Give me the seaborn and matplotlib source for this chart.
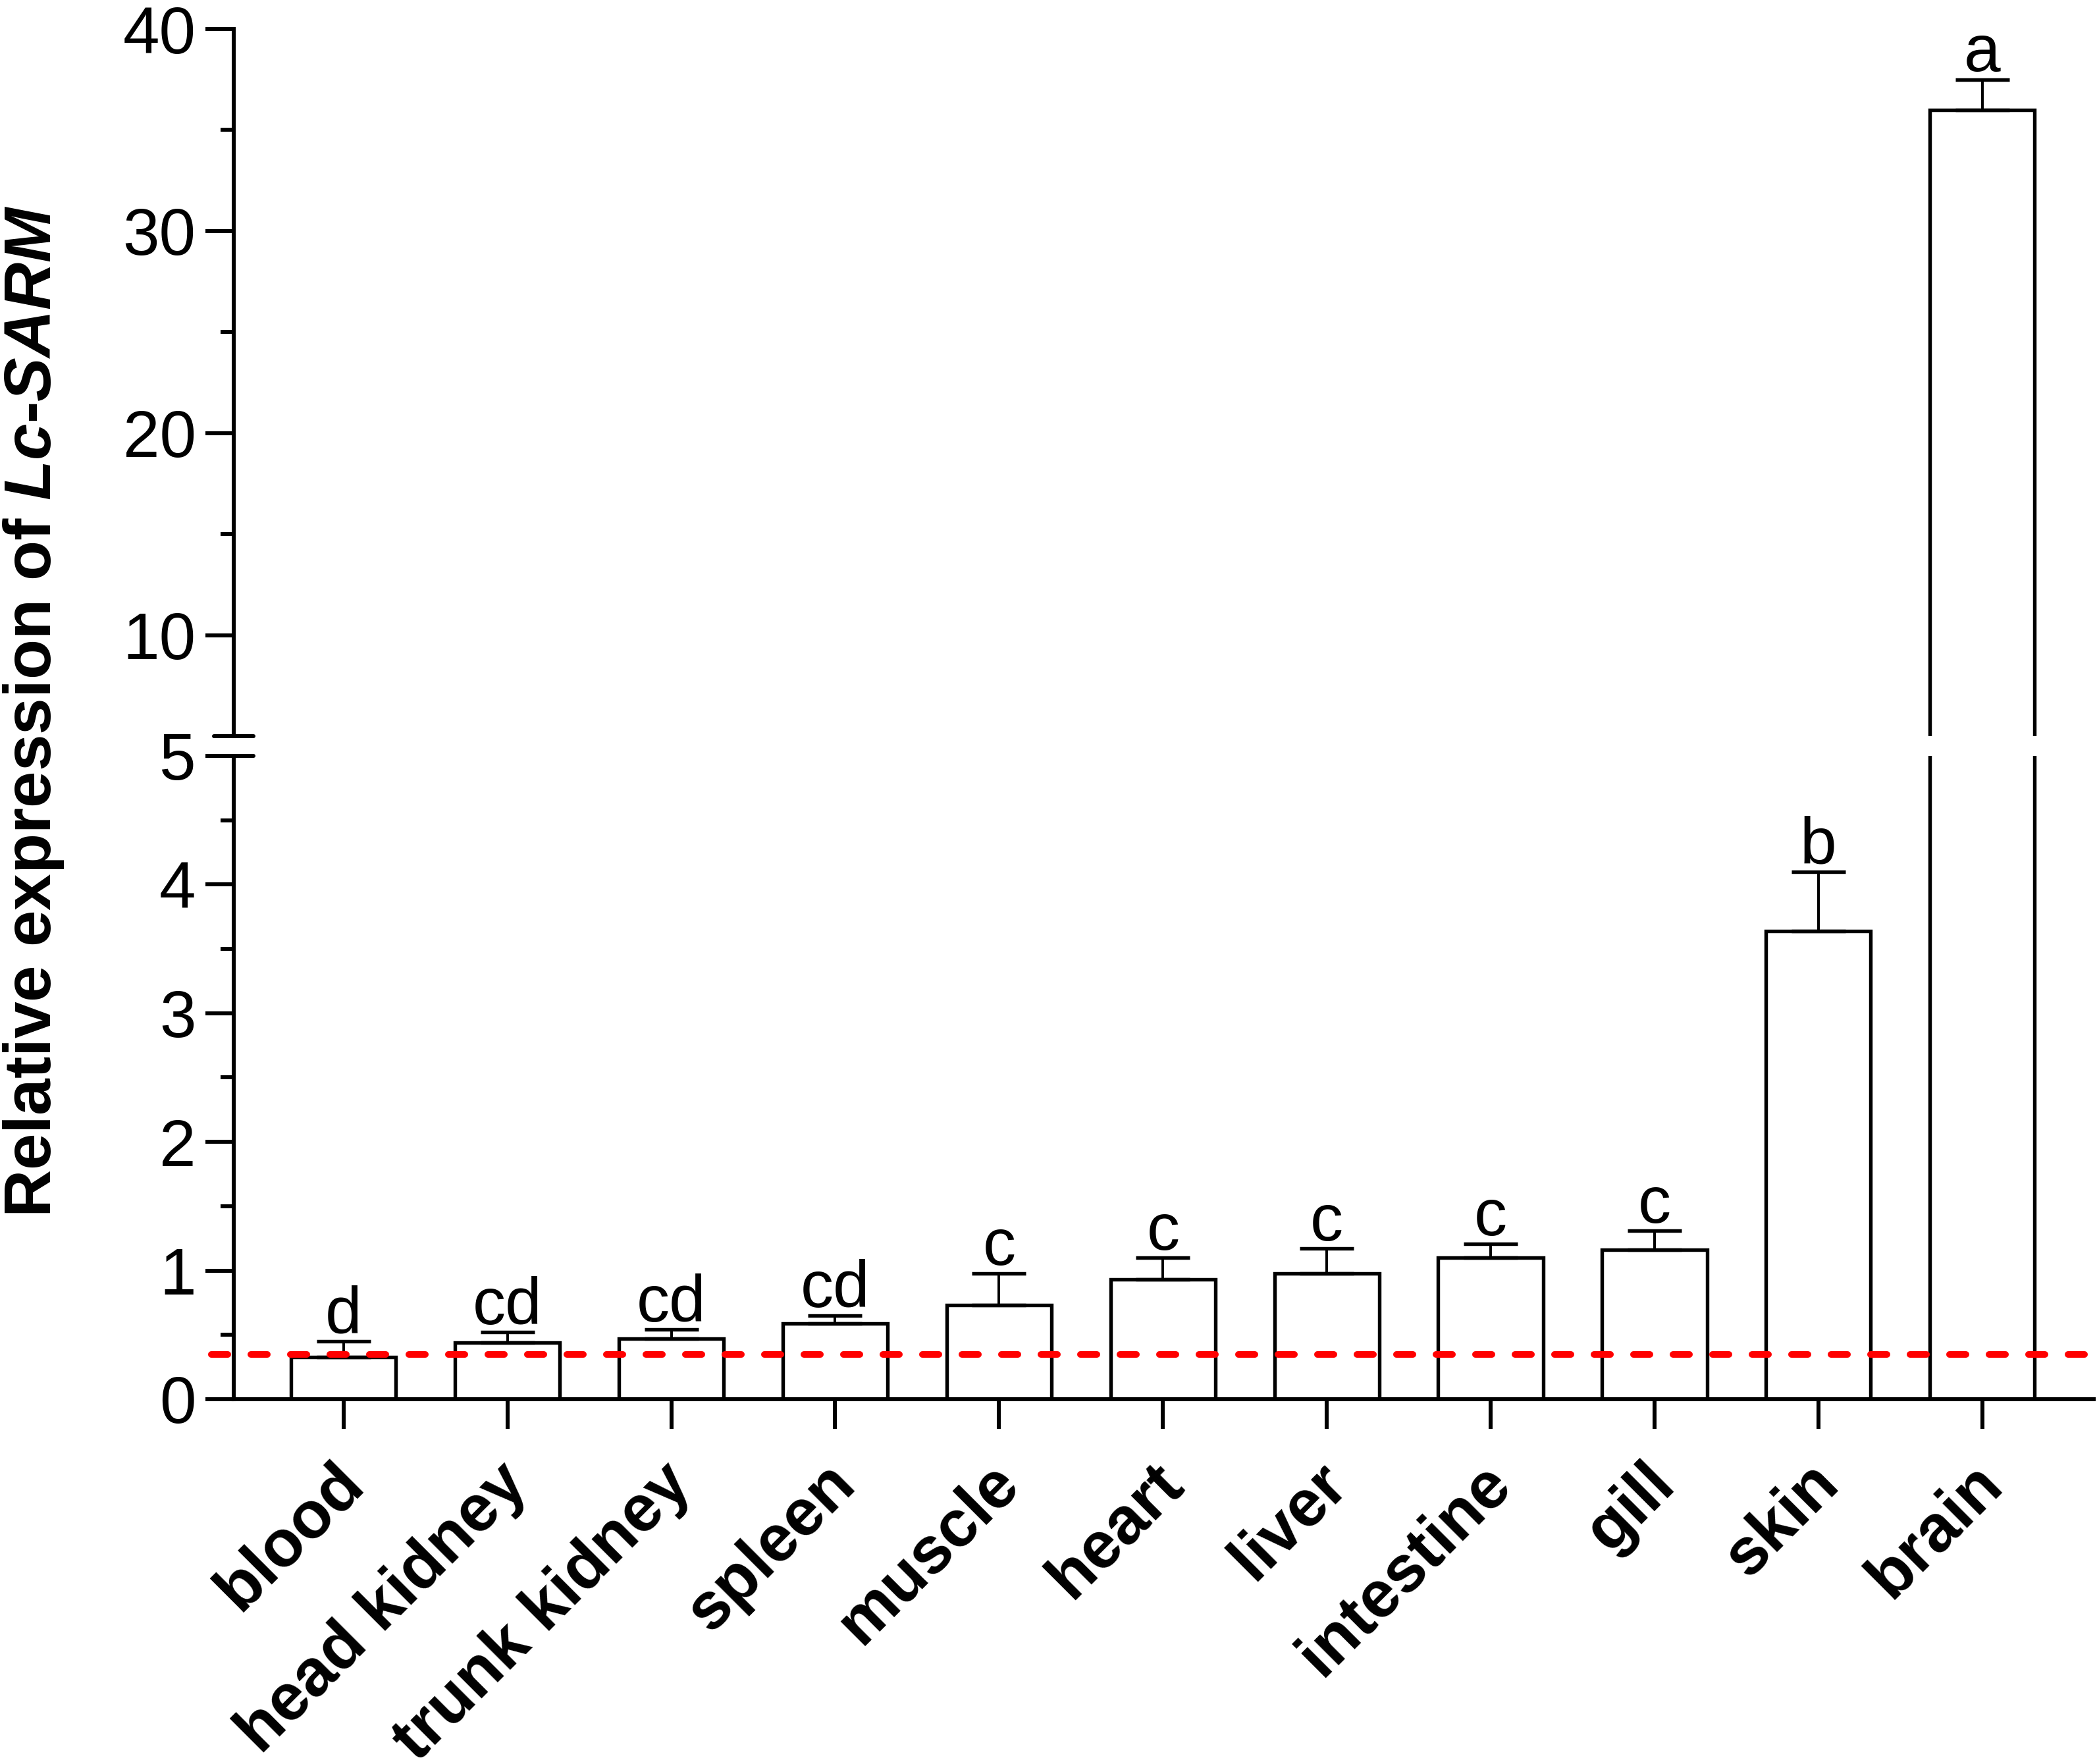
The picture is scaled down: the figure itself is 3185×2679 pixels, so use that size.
import matplotlib
matplotlib.use("Agg")
import matplotlib.pyplot as plt
import matplotlib.transforms as mtransforms
import seaborn as sns

sns.set_theme(style="ticks")
plt.rcParams["font.family"] = ["Liberation Sans", "DejaVu Sans"]
plt.rcParams["mathtext.fontset"] = "custom"
plt.rcParams["mathtext.bfit"] = "Liberation Sans:italic:bold"
plt.rcParams["mathtext.rm"] = "Liberation Sans"
for cle in ["text.color", "axes.labelcolor", "axes.edgecolor",
            "xtick.color", "ytick.color"]:
    plt.rcParams[cle] = "black"

# -----------------------------------------------------------------------------
# donnees
# -----------------------------------------------------------------------------
tissus = ["blood", "head kidney", "trunk kidney", "spleen", "muscle", "heart",
          "liver", "intestine", "gill", "skin", "brain"]
moyennes = [0.33, 0.44, 0.47, 0.59, 0.73, 0.93, 0.98, 1.10, 1.16, 3.64, 36.0]
haut_erreur = [0.45, 0.52, 0.54, 0.65, 0.98, 1.10, 1.17, 1.21, 1.31, 4.10, 37.5]
lettres = ["d", "cd", "cd", "cd", "c", "c", "c", "c", "c", "b", "a"]
seuil = 0.35

W, H = 3185, 2679
fig = plt.figure(figsize=(W / 300, H / 300), dpi=300)
ax_haut = fig.add_axes([355 / W, 1 - 1118 / H, 2825 / W, (1118 - 44) / H])
ax_bas = fig.add_axes([355 / W, 1 - 2125 / H, 2825 / W, (2125 - 1148) / H])

lw_axe = 1.45
for ax in (ax_haut, ax_bas):
    sns.barplot(x=tissus, y=moyennes, ax=ax, color="white", edgecolor="black",
                linewidth=1.3, width=0.64, saturation=1, errorbar=None)
    err = [h - m for h, m in zip(haut_erreur, moyennes)]
    ax.errorbar(range(len(tissus)), moyennes, yerr=[[0] * len(err), err],
                fmt="none", ecolor="black", elinewidth=0.95, capsize=9.8,
                capthick=1.3, zorder=1)
    ax.set_xlim(-0.67, 10.68)
    sns.despine(ax=ax)
    ax.spines["left"].set_linewidth(lw_axe)
    ax.spines["bottom"].set_linewidth(lw_axe)
    ax.set_xlabel("")
    ax.set_ylabel("")
    ax.tick_params(axis="y", which="major", length=10.3, width=lw_axe,
                   labelsize=24, pad=3.5, color="black", labelcolor="black")
    ax.tick_params(axis="y", which="minor", length=4.8, width=lw_axe, color="black")

# axe du haut (5 - 40)
ax_haut.set_ylim(5, 40)
ax_haut.set_yticks([10, 20, 30, 40])
ax_haut.set_yticks([15, 25, 35], minor=True)
ax_haut.spines["bottom"].set_visible(False)
ax_haut.tick_params(axis="x", bottom=False, labelbottom=False)

# axe du bas (0 - 5)
ax_bas.set_ylim(0, 5)
ax_bas.set_yticks([0, 1, 2, 3, 4, 5])
ax_bas.set_yticks([0.5, 1.5, 2.5, 3.5, 4.5], minor=True)
ax_bas.set_xticks(range(len(tissus)))
ax_bas.set_xticklabels(tissus, rotation=45, ha="right", va="center",
                       rotation_mode="anchor", fontsize=24, fontweight="bold")
ax_bas.tick_params(axis="x", length=10.8, width=lw_axe, pad=16.5,
                   color="black", labelcolor="black")
decalage = mtransforms.ScaledTranslation(3.8 / 72, 0, fig.dpi_scale_trans)
for lab in ax_bas.get_xticklabels():
    lab.set_transform(lab.get_transform() + decalage)

# lignes de coupure de l'axe
ax_haut.plot([-0.0105, 0.0105], [0, 0], transform=ax_haut.transAxes,
             color="black", lw=lw_axe, clip_on=False)
ax_bas.plot([-0.0105, 0.0105], [1, 1], transform=ax_bas.transAxes,
            color="black", lw=lw_axe, clip_on=False)

# lettres de significativite
for i, (h, l) in enumerate(zip(haut_erreur, lettres)):
    ax = ax_haut if h > 5 else ax_bas
    ax.annotate(l, xy=(i, h), xytext=(0, 3), textcoords="offset points",
                ha="center", va="baseline", fontsize=24, color="black")

# ligne seuil en pointilles rouges
ax_bas.axhline(seuil, xmin=-0.012, xmax=0.995, color="#ff0000", lw=2.4,
               linestyle=(0, (2.5, 3.5)), dash_capstyle="round", clip_on=False,
               zorder=5)

fig.text(51 / W, 1 - 1080 / H,
         r"Relative expression of $\mathbfit{Lc}$-$\mathbfit{SARM}$",
         rotation=90, ha="center", va="center", fontsize=24,
         fontweight="bold", color="black")

fig.savefig("out.png", dpi=300)
plt.close(fig)
